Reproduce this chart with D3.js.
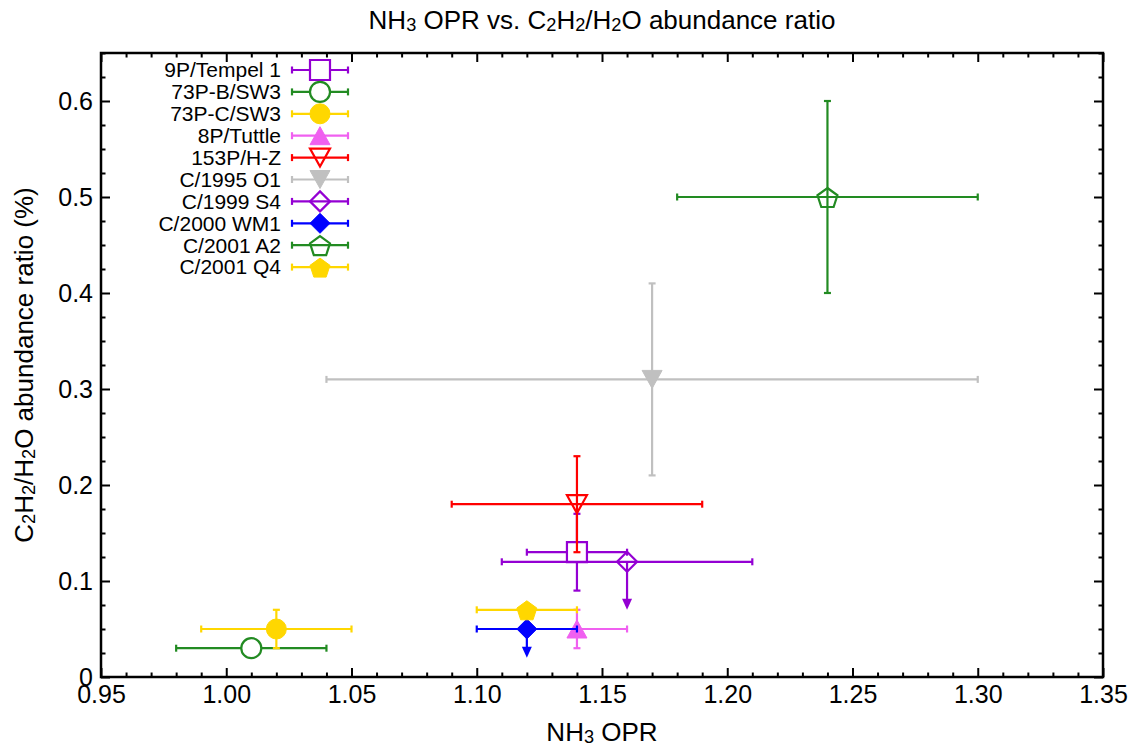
<!DOCTYPE html>
<html>
<head>
<meta charset="utf-8">
<script src="https://cdn.jsdelivr.net/npm/d3@7"></script>
<style>
  body { margin: 0; background: #fff; }
  svg text { font-family: "Liberation Sans", Arial, Helvetica, sans-serif; fill: #000; }
</style>
</head>
<body>
<svg width="1140" height="749"></svg>
<script>
// comets and their values
const comets = ["9P/Tempel 1", "73P-B/SW3", "73P-C/SW3", "8P/Tuttle", "153P/H-Z",
  "C/1995 O1", "C/1999 S4", "C/2000 WM1", "C/2001 A2", "C/2001 Q4"];
const opr      = [1.14, 1.01, 1.02, 1.14, 1.14, 1.17, 1.16, 1.12, 1.24, 1.12];
const oprLow   = [1.12, 0.98, 0.99, 1.12, 1.09, 1.04, 1.11, 1.10, 1.18, 1.10];
const oprHigh  = [1.16, 1.04, 1.05, 1.16, 1.19, 1.30, 1.21, 1.14, 1.30, 1.14];
const ratio    = [0.13, 0.03, 0.05, 0.05, 0.18, 0.31, 0.12, 0.05, 0.50, 0.07];
const ratioLow = [0.09, null, 0.03, 0.03, 0.13, 0.21, null, null, 0.40, null];
const ratioHigh= [0.17, null, 0.07, 0.07, 0.23, 0.41, null, null, 0.60, null];
// upper limits: arrow drawn down to this value
const limitTo  = [null, null, null, null, null, null, 0.07, 0.02, null, null];

const colors  = ["#9400d3", "#228b22", "#ffd700", "#f060f0", "#ff0000",
  "#c0c0c0", "#9400d3", "#0000ff", "#228b22", "#ffd700"];
const shapes  = ["square", "circle", "circle", "triUp", "triDown",
  "triDown", "diamond", "diamond", "pentagon", "pentagon"];
const filled  = [false, false, true, true, false, true, false, true, false, true];

const xTicks = [0.95, 1.00, 1.05, 1.10, 1.15, 1.20, 1.25, 1.30, 1.35];
const yTicks = [0, 0.1, 0.2, 0.3, 0.4, 0.5, 0.6];

function load(){
  const svg = d3.select("svg")
  const margin = {top: 53, left: 101, right: 37, bottom: 72}
  const width = +svg.attr("width")
  const height = +svg.attr("height")
  const innerWidth = width - margin.left - margin.right
  const innerHeight = height - margin.top - margin.bottom

  const xScale = d3.scaleLinear().domain([0.95, 1.35]).range([0, innerWidth])
  const yScale = d3.scaleLinear().domain([0, 0.65]).range([innerHeight, 0])

  const g = svg.append("g")
    .attr("transform", `translate(${margin.left},${margin.top})`)

  const xMinor = d3.range(95, 136).map(v => v / 100).filter(v => Math.round(v * 100) % 5 !== 0)
  const yMinor = d3.range(0, 66, 2.5).map(v => v / 100).filter(v => Math.round(v * 1000) % 100 !== 0)

  // ticks, all pointing inward
  const axes = [
    [d3.axisBottom(xScale).tickValues(xTicks).tickFormat(d3.format(".2f")), `translate(0,${innerHeight})`, true],
    [d3.axisBottom(xScale).tickValues(xMinor).tickFormat(""), `translate(0,${innerHeight})`, false],
    [d3.axisTop(xScale).tickValues(xTicks).tickFormat(""), null, true],
    [d3.axisTop(xScale).tickValues(xMinor).tickFormat(""), null, false],
    [d3.axisLeft(yScale).tickValues(yTicks).tickFormat(d => d === 0 ? "0" : d3.format(".1f")(d)), null, true],
    [d3.axisLeft(yScale).tickValues(yMinor).tickFormat(""), null, false],
    [d3.axisRight(yScale).tickValues(yTicks).tickFormat(""), `translate(${innerWidth},0)`, true],
    [d3.axisRight(yScale).tickValues(yMinor).tickFormat(""), `translate(${innerWidth},0)`, false]
  ]
  axes.forEach(([ax, tr, major]) => {
    ax.tickSize(major ? -9 : -4.5).tickPadding(major ? 8 : 0)
    const ag = g.append("g").call(ax)
    if (tr) ag.attr("transform", tr)
    ag.select(".domain").remove()
    ag.selectAll("line").attr("stroke", "#000").attr("stroke-width", 2)
    ag.selectAll("text").attr("font-size", 25).attr("font-family", null)
    // empty labels of the minor / mirror axes are not needed
    ag.selectAll("text").filter(function(){ return this.textContent === "" }).remove()
  })

  // symbols
  function shapePath(shape, s){
    const poly = pts => "M" + pts.map(p => p.join(",")).join("L") + "Z"
    if (shape === "square") return poly([[-s, -s], [s, -s], [s, s], [-s, s]])
    if (shape === "circle") return d3.arc()({innerRadius: 0, outerRadius: s, startAngle: 0, endAngle: 2 * Math.PI})
    if (shape === "triUp") return poly([[0, -s * 0.9], [s, s * 0.9], [-s, s * 0.9]])
    if (shape === "triDown") return poly([[-s, -s * 0.9], [s, -s * 0.9], [0, s * 0.9]])
    if (shape === "diamond") return poly([[0, -s], [s, 0], [0, s], [-s, 0]])
    if (shape === "pentagon") {
      const R = s * 1.05
      return poly(d3.range(5).map(k => {
        const a = -Math.PI / 2 + k * 2 * Math.PI / 5
        return [R * Math.cos(a), R * Math.sin(a) + 1.5]
      }))
    }
  }
  function drawMarker(sel, i, cx, cy){
    const whiteInside = !filled[i] && (shapes[i] === "square" || shapes[i] === "circle")
    sel.append("path")
      .attr("d", shapePath(shapes[i], 10))
      .attr("transform", `translate(${cx},${cy})`)
      .attr("fill", filled[i] ? colors[i] : (whiteInside ? "#fff" : "none"))
      .attr("stroke", colors[i])
      .attr("stroke-width", filled[i] ? 1 : 2.2)
      .attr("stroke-linejoin", "miter")
  }
  const cap = 3.5
  function hBar(sel, x1, x2, y, c){
    sel.append("line").attr("x1", x1).attr("x2", x2).attr("y1", y).attr("y2", y)
      .attr("stroke", c).attr("stroke-width", 2.2)
    ;[x1, x2].forEach(x => sel.append("line").attr("x1", x).attr("x2", x)
      .attr("y1", y - cap).attr("y2", y + cap).attr("stroke", c).attr("stroke-width", 2.2))
  }
  function vBar(sel, y1, y2, x, c){
    sel.append("line").attr("x1", x).attr("x2", x).attr("y1", y1).attr("y2", y2)
      .attr("stroke", c).attr("stroke-width", 2.2)
    ;[y1, y2].forEach(y => sel.append("line").attr("y1", y).attr("y2", y)
      .attr("x1", x - cap).attr("x2", x + cap).attr("stroke", c).attr("stroke-width", 2.2))
  }

  const plotG = g.append("g")
  comets.forEach((name, i) => {
    const cx = xScale(opr[i]), cy = yScale(ratio[i])
    const c = colors[i]
    const pg = plotG.append("g")
    hBar(pg, xScale(oprLow[i]), xScale(oprHigh[i]), cy, c)
    if (ratioLow[i] !== null) vBar(pg, yScale(ratioHigh[i]), yScale(ratioLow[i]), cx, c)
    if (limitTo[i] !== null) {
      const yEnd = yScale(limitTo[i])
      pg.append("line").attr("x1", cx).attr("x2", cx).attr("y1", cy).attr("y2", yEnd - 8)
        .attr("stroke", c).attr("stroke-width", 2.2)
      pg.append("path")
        .attr("d", `M${cx - 5},${yEnd - 11}L${cx + 5},${yEnd - 11}L${cx},${yEnd}Z`)
        .attr("fill", c)
    }
    drawMarker(pg, i, cx, cy)
  })

  // legend
  const legG = svg.append("g")
  comets.forEach((name, i) => {
    const y = 70 + i * 21.9
    legG.append("text").attr("x", 281).attr("y", y).attr("dy", "0.35em")
      .attr("text-anchor", "end").attr("font-size", 21).text(name)
    hBar(legG, 292, 348, y, colors[i])
    drawMarker(legG, i, 320, y)
  })

  // frame
  g.append("rect").attr("width", innerWidth).attr("height", innerHeight)
    .attr("fill", "none").attr("stroke", "#000").attr("stroke-width", 2.5)

  // text with small subscripts
  function richText(sel, parts){
    let shift = 0
    parts.forEach(p => {
      if (typeof p === "string") {
        sel.append("tspan").attr("dy", -shift).text(p)
        shift = 0
      } else {
        sel.append("tspan").attr("font-size", "0.7em").attr("dy", 2).text(p.sub)
        shift = 2
      }
    })
  }
  const title = svg.append("text").attr("x", margin.left + innerWidth / 2).attr("y", 29)
    .attr("text-anchor", "middle").attr("font-size", 26)
  richText(title, ["NH", {sub: "3"}, " OPR vs. C", {sub: "2"}, "H", {sub: "2"}, "/H", {sub: "2"}, "O abundance ratio"])

  const xLabel = svg.append("text").attr("x", margin.left + innerWidth / 2).attr("y", 741)
    .attr("text-anchor", "middle").attr("font-size", 26)
  richText(xLabel, ["NH", {sub: "3"}, " OPR"])

  const yLabel = svg.append("text")
    .attr("transform", `translate(33,${margin.top + innerHeight / 2}) rotate(-90)`)
    .attr("text-anchor", "middle").attr("font-size", 26)
  richText(yLabel, ["C", {sub: "2"}, "H", {sub: "2"}, "/H", {sub: "2"}, "O abundance ratio (%)"])
}
load()
</script>
</body>
</html>
